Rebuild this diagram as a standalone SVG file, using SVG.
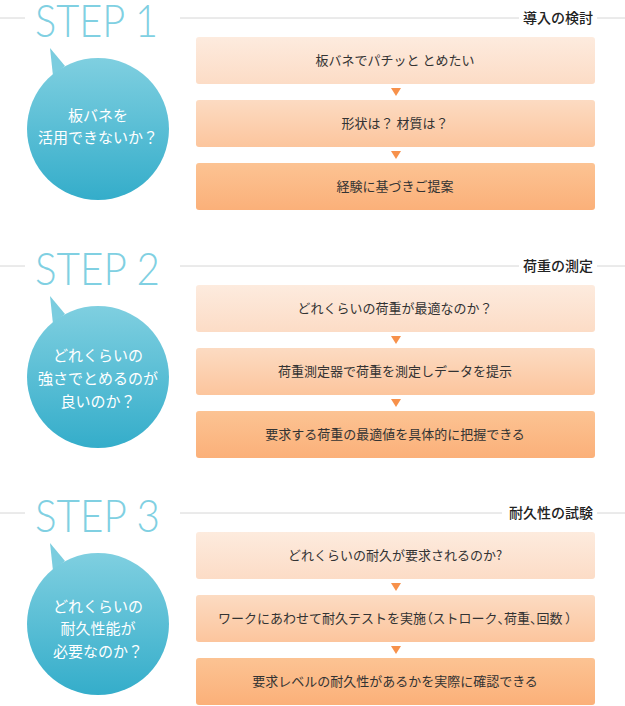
<svg xmlns="http://www.w3.org/2000/svg" width="625" height="706" viewBox="0 0 625 706">
<defs>
<linearGradient id="gC" x1="0" y1="0" x2="0" y2="1"><stop offset="0" stop-color="#7fcfe0"/><stop offset="1" stop-color="#34adca"/></linearGradient>
<linearGradient id="g1" x1="0" y1="0" x2="0" y2="1"><stop offset="0" stop-color="#fdebde"/><stop offset="1" stop-color="#fcdcc6"/></linearGradient>
<linearGradient id="g2" x1="0" y1="0" x2="0" y2="1"><stop offset="0" stop-color="#fcdbc2"/><stop offset="1" stop-color="#fcc59d"/></linearGradient>
<linearGradient id="g3" x1="0" y1="0" x2="0" y2="1"><stop offset="0" stop-color="#fcc393"/><stop offset="1" stop-color="#fbb079"/></linearGradient>
<g id="bubble">
<polygon points="50,48 65,66 53,76" fill="#7bcddf"/>
<circle cx="98" cy="129" r="71" fill="url(#gC)"/>
</g>
<g id="rule">
<line x1="0" y1="18" x2="25" y2="18" class="ln"/>
<line x1="180" y1="18" x2="625" y2="18" class="ln"/>
</g>
</defs>
<style>
.ln{stroke:#d6d6d6;stroke-width:1}
.step{font-family:Lato,"Open Sans","Liberation Sans",sans-serif;font-weight:300;font-size:45px;fill:#80d0e2}
.lbl{font-family:"Noto Sans CJK JP","Liberation Sans",sans-serif;font-size:14px;font-weight:500;fill:#222;text-anchor:end}
.ct{font-family:"Noto Sans CJK JP","Liberation Sans",sans-serif;font-size:15px;fill:#fff;text-anchor:middle}
.bt{font-family:"Noto Sans CJK JP","Liberation Sans",sans-serif;font-size:13px;fill:#333;text-anchor:middle}
.p{font-feature-settings:"palt"}
.arr{fill:#f7914b}
</style>
<rect width="625" height="706" fill="#fff"/>

<g id="step1">
<use href="#rule"/>
<rect x="519" y="8" width="78" height="20" fill="#fff"/>
<text class="lbl" x="593" y="23">導入の検討</text>
<text class="step" x="35" y="37" textLength="123" lengthAdjust="spacingAndGlyphs">STEP 1</text>
<g id="q1"><use href="#bubble"/><text class="ct" x="98" y="121">板バネを</text><text class="ct" x="98" y="143">活用できないか？</text></g>
<g id="s1b1"><rect x="196" y="37" width="399" height="47" rx="3" fill="url(#g1)"/><text class="bt" x="395" y="65">板バネでパチッと とめたい</text></g>
<g id="s1b2"><rect x="196" y="100" width="399" height="47" rx="3" fill="url(#g2)"/><text class="bt" x="395" y="128">形状は？ 材質は？</text></g>
<g id="s1b3"><rect x="196" y="163" width="399" height="47" rx="3" fill="url(#g3)"/><text class="bt" x="395" y="191">経験に基づきご提案</text></g>
<g id="c1"><polygon class="arr" points="391,88 401,88 396,96"/><polygon class="arr" points="391,151 401,151 396,159"/></g>
</g>

<g id="step2" transform="translate(0,248)">
<use href="#rule"/>
<rect x="519" y="8" width="78" height="20" fill="#fff"/>
<text class="lbl" x="593" y="23">荷重の測定</text>
<text class="step" x="35" y="37" textLength="125" lengthAdjust="spacingAndGlyphs">STEP 2</text>
<g id="q2"><use href="#bubble"/><text class="ct" x="98" y="113">どれくらいの</text><text class="ct" x="98" y="136">強さでとめるのが</text><text class="ct" x="98" y="159">良いのか？</text></g>
<g id="s2b1"><rect x="196" y="37" width="399" height="47" rx="3" fill="url(#g1)"/><text class="bt" x="395" y="65">どれくらいの荷重が最適なのか？</text></g>
<g id="s2b2"><rect x="196" y="100" width="399" height="47" rx="3" fill="url(#g2)"/><text class="bt" x="395" y="128">荷重測定器で荷重を測定しデータを提示</text></g>
<g id="s2b3"><rect x="196" y="163" width="399" height="47" rx="3" fill="url(#g3)"/><text class="bt" x="395" y="191">要求する荷重の最適値を具体的に把握できる</text></g>
<g id="c2"><polygon class="arr" points="391,88 401,88 396,96"/><polygon class="arr" points="391,151 401,151 396,159"/></g>
</g>

<g id="step3" transform="translate(0,495)">
<use href="#rule"/>
<rect x="502" y="8" width="95" height="20" fill="#fff"/>
<text class="lbl" x="593" y="23">耐久性の試験</text>
<text class="step" x="35" y="37" textLength="125" lengthAdjust="spacingAndGlyphs">STEP 3</text>
<g id="q3"><use href="#bubble"/><text class="ct" x="98" y="117">どれくらいの</text><text class="ct" x="98" y="139">耐久性能が</text><text class="ct" x="98" y="162">必要なのか？</text></g>
<g id="s3b1"><rect x="196" y="37" width="399" height="47" rx="3" fill="url(#g1)"/><text class="bt" x="395" y="65">どれくらいの耐久が要求されるのか?</text></g>
<g id="s3b2"><rect x="196" y="100" width="399" height="47" rx="3" fill="url(#g2)"/><text class="bt" x="395" y="128">ワークにあわせて耐久テストを実施<tspan class="p">（</tspan>ストローク<tspan class="p">、</tspan>荷重<tspan class="p">、</tspan>回数 <tspan class="p">）</tspan></text></g>
<g id="s3b3"><rect x="196" y="163" width="399" height="47" rx="3" fill="url(#g3)"/><text class="bt" x="395" y="191">要求レベルの耐久性があるかを実際に確認できる</text></g>
<g id="c3"><polygon class="arr" points="391,88 401,88 396,96"/><polygon class="arr" points="391,151 401,151 396,159"/></g>
</g>
</svg>
